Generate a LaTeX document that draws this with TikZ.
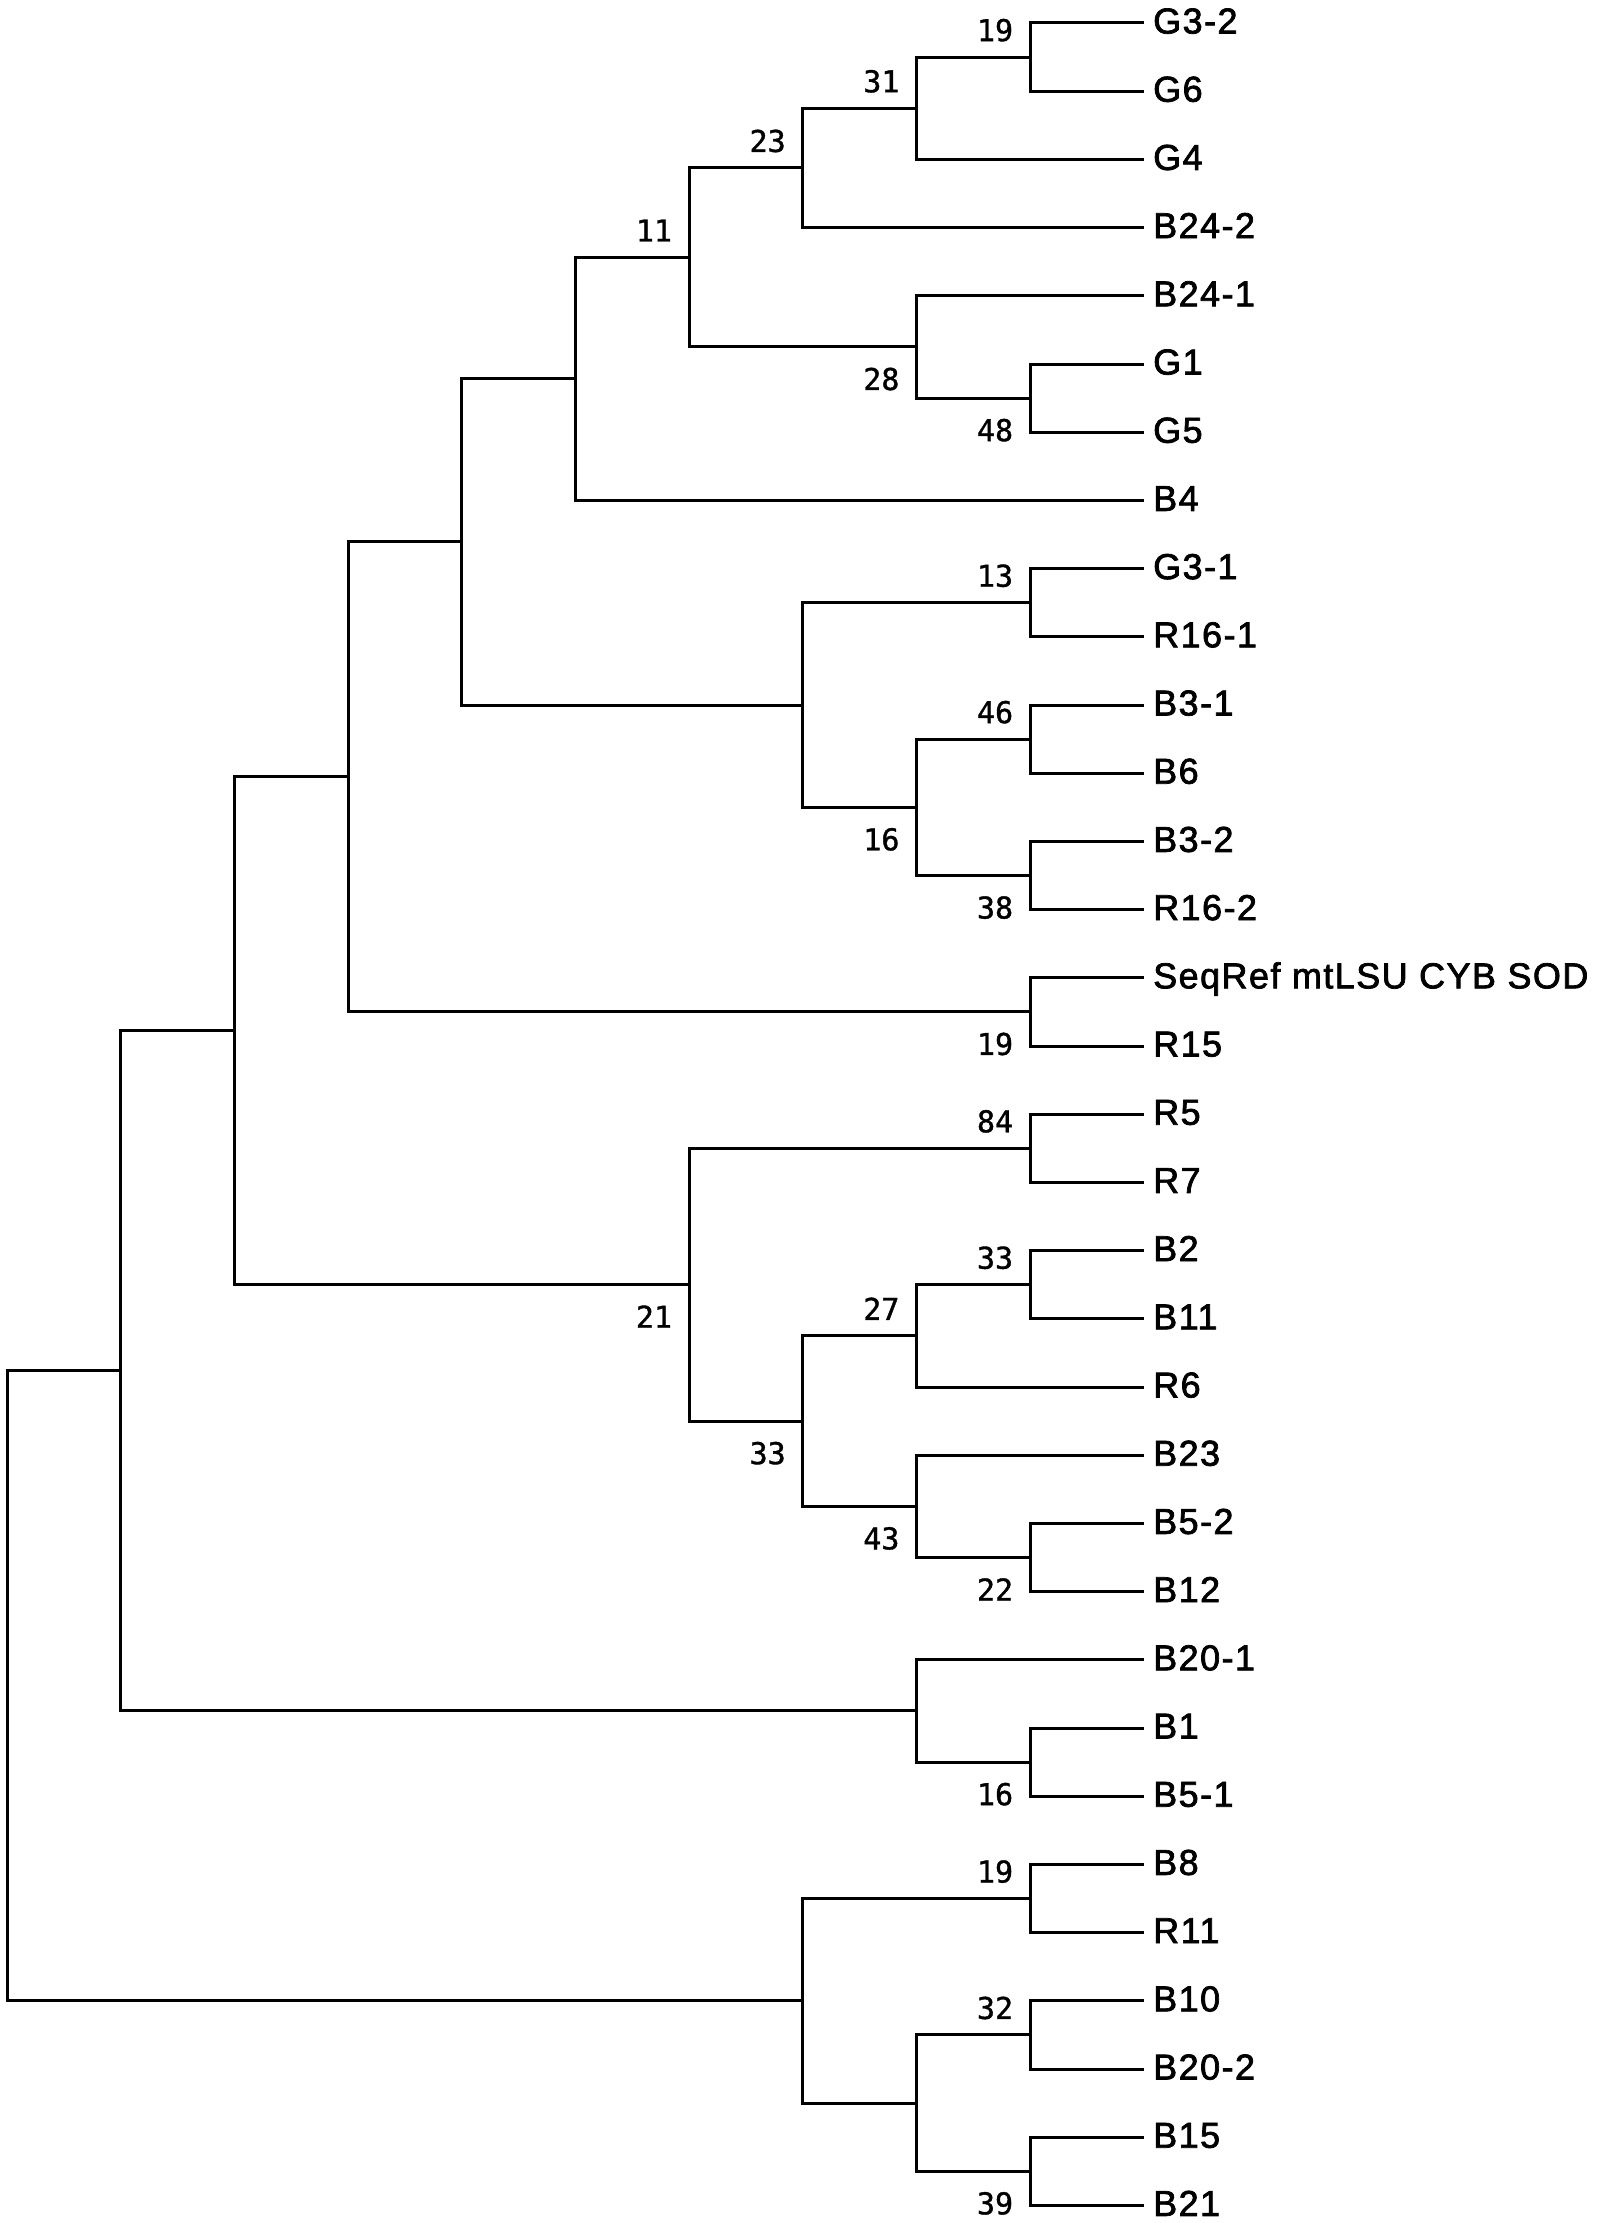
\documentclass[tikz,border=0pt]{standalone}
\usepackage{fontspec}
\usetikzlibrary{calc}
\newfontfamily\leaffont[LetterSpace=4,FakeBold=2]{Liberation Sans}
\newfontfamily\bsfont[FakeBold=1.2]{DejaVu Sans Mono}
\tikzset{
  br/.style={draw=black, line width=3pt, line join=miter},
  leaflab/.style={font=\leaffont\fontsize{36}{42}\selectfont, inner sep=0pt, text=black},
  bs/.style={font=\bsfont\fontsize{30}{36}\selectfont, inner sep=0pt, text=black}
}
\newcommand\leaf[3]{%
  \coordinate (#1) at (1144, {23+68.2*(#2-1)});
  \node[leaflab, anchor=base west] (#1lab) at ([shift={(9,10.5)}]#1) {#3};
}
\newcommand\inode[4]{%
  \path let \p1=($(#3)!0.5!(#4)$) in coordinate (#1) at ({(7+113.7*#2)*1pt}, \y1);
  \draw[br] (#3) -| (#1) |- (#4);
}
\newcommand\bsA[2]{\node[bs, anchor=base east] (#1bs) at ([shift={(-17,-16)}]#1) {#2};}
\newcommand\bsB[2]{\node[bs, anchor=base east] (#1bs) at ([shift={(-17,43)}]#1) {#2};}
\begin{document}
\begin{tikzpicture}[x=1pt, y=-1pt]
\fill[white] (0,0) rectangle (1606,2223);
\useasboundingbox (0,0) rectangle (1606,2223);
% leaves
\leaf{l1}{1}{G3-2}
\leaf{l2}{2}{G6}
\leaf{l3}{3}{G4}
\leaf{l4}{4}{B24-2}
\leaf{l5}{5}{B24-1}
\leaf{l6}{6}{G1}
\leaf{l7}{7}{G5}
\leaf{l8}{8}{B4}
\leaf{l9}{9}{G3-1}
\leaf{l10}{10}{R16-1}
\leaf{l11}{11}{B3-1}
\leaf{l12}{12}{B6}
\leaf{l13}{13}{B3-2}
\leaf{l14}{14}{R16-2}
\leaf{l15}{15}{SeqRef mtLSU CYB SOD}
\leaf{l16}{16}{R15}
\leaf{l17}{17}{R5}
\leaf{l18}{18}{R7}
\leaf{l19}{19}{B2}
\leaf{l20}{20}{B11}
\leaf{l21}{21}{R6}
\leaf{l22}{22}{B23}
\leaf{l23}{23}{B5-2}
\leaf{l24}{24}{B12}
\leaf{l25}{25}{B20-1}
\leaf{l26}{26}{B1}
\leaf{l27}{27}{B5-1}
\leaf{l28}{28}{B8}
\leaf{l29}{29}{R11}
\leaf{l30}{30}{B10}
\leaf{l31}{31}{B20-2}
\leaf{l32}{32}{B15}
\leaf{l33}{33}{B21}
% internal nodes
\inode{nXIXa}{9}{l1}{l2}
\inode{nXXXI}{8}{nXIXa}{l3}
\inode{nXXIII}{7}{nXXXI}{l4}
\inode{nXLVIII}{9}{l6}{l7}
\inode{nXXVIII}{8}{l5}{nXLVIII}
\inode{nXI}{6}{nXXIII}{nXXVIII}
\inode{nA}{5}{nXI}{l8}
\inode{nXIII}{9}{l9}{l10}
\inode{nXLVI}{9}{l11}{l12}
\inode{nXXXVIII}{9}{l13}{l14}
\inode{nXVIa}{8}{nXLVI}{nXXXVIII}
\inode{nB}{7}{nXIII}{nXVIa}
\inode{nC}{4}{nA}{nB}
\inode{nXIXb}{9}{l15}{l16}
\inode{nD}{3}{nC}{nXIXb}
\inode{nLXXXIV}{9}{l17}{l18}
\inode{nXXXIIIa}{9}{l19}{l20}
\inode{nXXVII}{8}{nXXXIIIa}{l21}
\inode{nXXII}{9}{l23}{l24}
\inode{nXLIII}{8}{l22}{nXXII}
\inode{nXXXIIIb}{7}{nXXVII}{nXLIII}
\inode{nXXI}{6}{nLXXXIV}{nXXXIIIb}
\inode{nE}{2}{nD}{nXXI}
\inode{nXVIb}{9}{l26}{l27}
\inode{nF}{8}{l25}{nXVIb}
\inode{nG}{1}{nE}{nF}
\inode{nXIXc}{9}{l28}{l29}
\inode{nXXXII}{9}{l30}{l31}
\inode{nXXXIX}{9}{l32}{l33}
\inode{nH}{8}{nXXXII}{nXXXIX}
\inode{nI}{7}{nXIXc}{nH}
\inode{nRoot}{0}{nG}{nI}
% bootstrap values
\bsA{nXIXa}{19}
\bsA{nXXXI}{31}
\bsA{nXXIII}{23}
\bsA{nXI}{11}
\bsB{nXXVIII}{28}
\bsB{nXLVIII}{48}
\bsA{nXIII}{13}
\bsA{nXLVI}{46}
\bsB{nXVIa}{16}
\bsB{nXXXVIII}{38}
\bsB{nXIXb}{19}
\bsA{nLXXXIV}{84}
\bsA{nXXXIIIa}{33}
\bsA{nXXVII}{27}
\bsB{nXXII}{22}
\bsB{nXLIII}{43}
\bsB{nXXXIIIb}{33}
\bsB{nXXI}{21}
\bsB{nXVIb}{16}
\bsA{nXIXc}{19}
\bsA{nXXXII}{32}
\bsB{nXXXIX}{39}
\end{tikzpicture}
\end{document}
